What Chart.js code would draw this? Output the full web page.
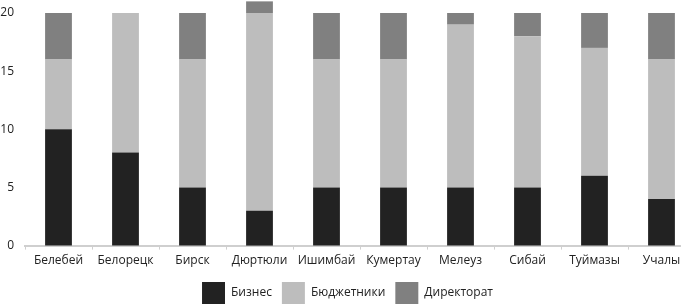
<!DOCTYPE html>
<html><head><meta charset="utf-8">
<script src="https://cdn.jsdelivr.net/npm/chart.js@4"></script>
<style>
html,body{margin:0;padding:0;background:#fff;overflow:hidden;width:681px;height:304px;}
#wrap{position:relative;width:695px;height:314px;}
</style></head>
<body>
<div id="wrap"><canvas id="c"></canvas></div>
<script>
const categories = ["Белебей","Белорецк","Бирск","Дюртюли","Ишимбай","Кумертау","Мелеуз","Сибай","Туймазы","Учалы"];
const business = [10, 8, 5, 3, 5, 5, 5, 5, 6, 4];
const budget = [6, 12, 11, 17, 11, 11, 14, 13, 11, 12];
const directorate = [4, 0, 4, 1, 4, 4, 1, 2, 3, 4];
const seriesNames = ["Бизнес","Бюджетники","Директорат"];
const yTicks = [0, 5, 10, 15, 20];

const colors = ["#222222","#bdbdbd","#808080"];
const FONT = "'Open Sans', 'Noto Sans', sans-serif";
const LEG_PAD = 10;
Chart.defaults.font.family = FONT;
Chart.defaults.font.size = 12;
Chart.defaults.color = "#222";

new Chart(document.getElementById('c'), {
  type: 'bar',
  data: {
    labels: categories,
    datasets: [business, budget, directorate].map((d, i) => ({
      label: seriesNames[i],
      data: d,
      backgroundColor: colors[i],
      borderWidth: 0,
      clip: false,
      categoryPercentage: 1,
      barPercentage: 0.4
    }))
  },
  options: {
    responsive: true,
    maintainAspectRatio: false,
    animation: false,
    layout: { autoPadding: false, padding: { top: 13, left: 0, right: 0, bottom: 0 } },
    plugins: {
      tooltip: { enabled: false },
      legend: {
        position: 'bottom',
        labels: { boxWidth: 23, boxHeight: 22, padding: LEG_PAD, font: { size: 12, family: FONT }, color: '#222' }
      }
    },
    scales: {
      x: {
        stacked: true,
        grid: { display: true, drawOnChartArea: false, drawTicks: true, tickLength: 4, color: '#cfcfcf', offset: true },
        border: { display: true, color: '#cfcfcf', width: 2 },
        ticks: { font: { size: 12, family: FONT }, color: '#222', padding: 4, maxRotation: 0, autoSkip: false }
      },
      y: {
        stacked: true,
        min: 0, max: 20,
        afterBuildTicks: (ax) => { ax.ticks = yTicks.map(v => ({ value: v })); },
        grid: { display: false, drawTicks: true, tickLength: 11 },
        border: { display: false },
        ticks: { font: { size: 12, family: FONT }, color: '#222', padding: 0 },
        afterFit: (s) => { s.width = 25; }
      }
    }
  }
});
</script>
</body></html>
